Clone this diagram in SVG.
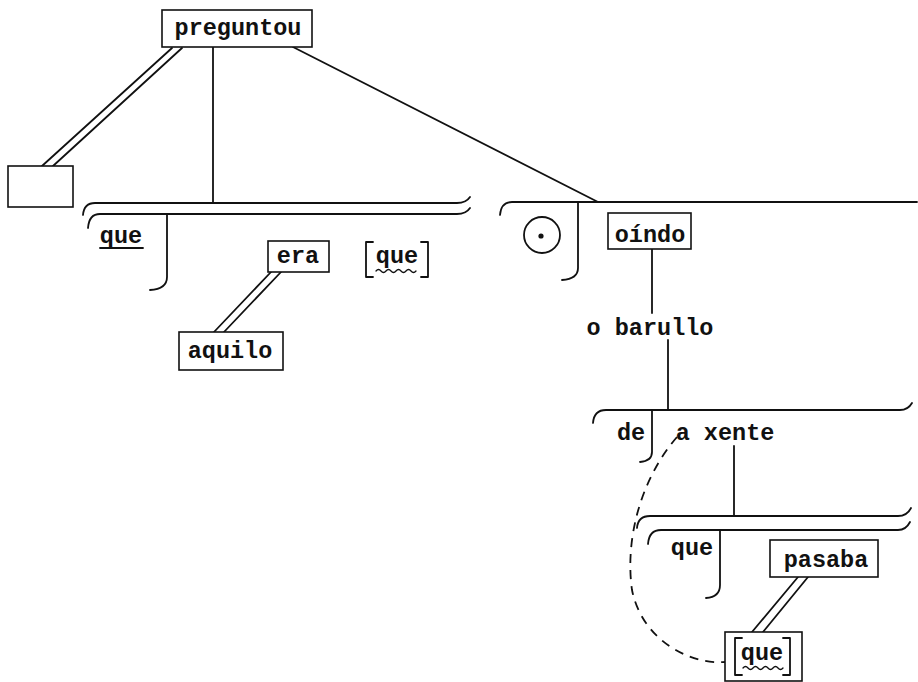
<svg xmlns="http://www.w3.org/2000/svg" width="918" height="682" viewBox="0 0 918 682">
<style>
.t{font-family:"Liberation Mono","Courier New",monospace;font-weight:bold;font-size:23.5px;fill:#111;text-anchor:middle}
.b{fill:#fff;stroke:#111;stroke-width:1.6}
.l{fill:none;stroke:#111;stroke-width:1.8;stroke-linecap:round;stroke-linejoin:round}
.d{fill:none;stroke:#111;stroke-width:1.8;stroke-dasharray:9 7}
</style>
<rect width="918" height="682" fill="#fff"/>
<g id="connectors">
  <path class="l" d="M172 48 L42 166 M182 48 L53 166"/>
  <path class="l" d="M213 47 V203"/>
  <path class="l" d="M293 47 L598 202"/>
  <path class="l" d="M83 215 Q84 203 95 203 H457 Q466 203 470 197"/>
  <path class="l" d="M88 228 Q89 214 100 214 H457 Q466 214 470 208"/>
  <path class="l" d="M167 214 V277 Q167 289 150 290"/>
  <path class="l" d="M271 272 L214 332 M281 272 L224 332"/>
  <path class="l" d="M500 215 Q501 202 512 202 H917"/>
  <path class="l" d="M578 202 V268 Q578 279 562 280"/>
  <path class="l" d="M652 249 V313"/>
  <path class="l" d="M668 340 V410"/>
  <path class="l" d="M593 423 Q594 410 606 410 H900 Q908 410 912 403"/>
  <path class="l" d="M652 410 V452 Q652 461 640 462"/>
  <path class="l" d="M734 446 V516"/>
  <path class="l" d="M637 528 Q638 516 650 516 H898 Q907 516 911 508"/>
  <path class="l" d="M648 544 Q649 530 661 530 H898 Q906 530 910 522"/>
  <path class="l" d="M720 530 V585 Q720 597 706 598"/>
  <path class="l" d="M798 577 L752 632 M808 577 L763 632"/>
  <path class="d" d="M677 437 C640 480 625 540 632 590 C642 640 690 665 725 662"/>
</g>
<g id="preguntou">
  <rect class="b" x="162" y="10" width="150" height="37"/>
  <text class="t" x="238" y="35">preguntou</text>
</g>
<g id="empty">
  <rect class="b" x="8" y="166" width="65" height="41"/>
</g>
<g id="que1">
  <text class="t" x="121" y="243">que</text>
  <path class="l" d="M100 248 H143"/>
</g>
<g id="era">
  <rect class="b" x="268" y="241" width="61" height="31"/>
  <text class="t" x="298" y="263">era</text>
</g>
<g id="que2">
  <path class="l" d="M373 242 H366 V277 H373 M421 242 H428 V277 H421"/>
  <text class="t" x="397" y="263">que</text>
  <path class="l" d="M376 271 q2.5 -3 5 0 t5 0 t5 0 t5 0 t5 0 t5 0 t5 0 t5 0" style="stroke-width:1.3"/>
</g>
<g id="aquilo">
  <rect class="b" x="179" y="332" width="104" height="38"/>
  <text class="t" x="230" y="358">aquilo</text>
</g>
<g id="circle">
  <circle cx="542" cy="235" r="18" fill="none" stroke="#111" stroke-width="1.8"/>
  <circle cx="541" cy="236" r="2.6" fill="#111"/>
</g>
<g id="oindo">
  <rect class="b" x="608" y="213" width="83" height="36"/>
  <text class="t" x="650" y="242">oíndo</text>
</g>
<g id="obarullo">
  <text class="t" x="650" y="335">o barullo</text>
</g>
<g id="de">
  <text class="t" x="631" y="440">de</text>
</g>
<g id="axente">
  <text class="t" x="725" y="440">a xente</text>
</g>
<g id="que3">
  <text class="t" x="692" y="555">que</text>
</g>
<g id="pasaba">
  <rect class="b" x="770" y="540" width="108" height="37"/>
  <text class="t" x="826" y="567">pasaba</text>
</g>
<g id="que4">
  <rect class="b" x="725" y="632" width="77" height="49"/>
  <path class="l" d="M742 638 H735 V675 H742 M783 638 H790 V675 H783"/>
  <text class="t" x="762" y="660">que</text>
  <path class="l" d="M743 668 q2.5 -3 5 0 t5 0 t5 0 t5 0 t5 0 t5 0 t5 0 t5 0" style="stroke-width:1.3"/>
</g>
</svg>
